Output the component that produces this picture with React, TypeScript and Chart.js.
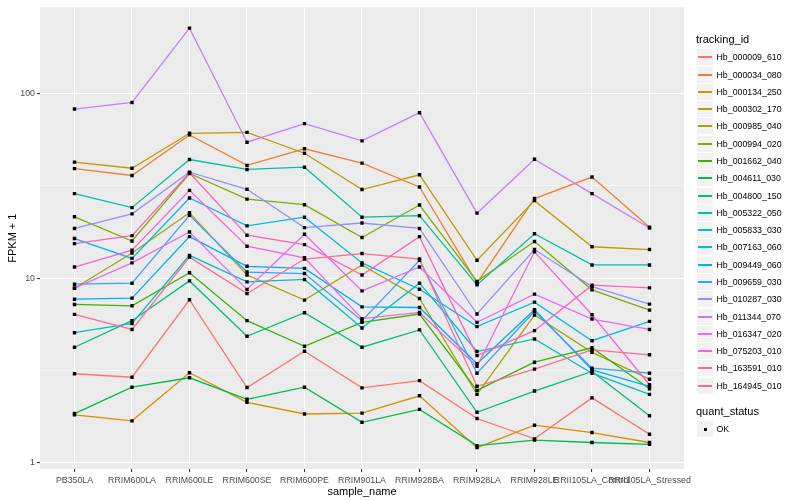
import React, { useEffect, useRef } from 'react';
import { Chart, registerables } from 'chart.js';

Chart.register(...registerables);

const FONT = '"Liberation Sans", Arial, Helvetica, sans-serif';

const categories = [
  'PB350LA', 'RRIM600LA', 'RRIM600LE', 'RRIM600SE', 'RRIM600PE', 'RRIM901LA',
  'RRIM928BA', 'RRIM928LA', 'RRIM928LE', 'RRII105LA_Control', 'RRII105LA_Stressed',
];

const trackingIds = [
  'Hb_000009_610', 'Hb_000034_080', 'Hb_000134_250', 'Hb_000302_170', 'Hb_000985_040',
  'Hb_000994_020', 'Hb_001662_040', 'Hb_004611_030', 'Hb_004800_150', 'Hb_005322_050',
  'Hb_005833_030', 'Hb_007163_060', 'Hb_009449_060', 'Hb_009659_030', 'Hb_010287_030',
  'Hb_011344_070', 'Hb_016347_020', 'Hb_075203_010', 'Hb_163591_010', 'Hb_164945_010',
];

// FPKM + 1 per sample, in the order of `categories`
const hb_000009_610 = [3.04, 2.91, 7.64, 2.56, 4.02, 2.55, 2.79, 1.74, 1.35, 2.25, 1.43];
const hb_000034_080 = [39.2, 36.0, 59.7, 40.8, 50.2, 42.0, 31.2, 9.43, 27.0, 35.3, 18.9];
const hb_000134_250 = [1.82, 1.69, 3.08, 2.13, 1.84, 1.86, 2.31, 1.21, 1.60, 1.46, 1.29];
const hb_000302_170 = [42.5, 39.4, 60.9, 61.6, 47.5, 30.2, 36.3, 12.5, 26.3, 14.8, 14.3];
const hb_000985_040 = [8.83, 13.7, 22.6, 10.4, 7.61, 11.8, 7.77, 2.35, 6.32, 3.97, 2.84];
const hb_000994_020 = [21.5, 15.9, 36.9, 26.8, 25.0, 16.6, 24.9, 9.61, 15.8, 8.65, 6.72];
const hb_001662_040 = [7.21, 7.09, 10.7, 5.89, 4.28, 5.77, 6.40, 2.47, 3.51, 4.20, 2.52];
const hb_004611_030 = [1.85, 2.57, 2.89, 2.21, 2.57, 1.66, 1.95, 1.24, 1.33, 1.29, 1.26];
const hb_004800_150 = [4.23, 5.89, 9.67, 4.85, 6.50, 4.23, 5.25, 1.88, 2.45, 3.13, 1.80];
const hb_005322_050 = [28.7, 24.1, 43.9, 38.8, 39.9, 21.4, 21.8, 9.20, 17.4, 11.8, 11.8];
const hb_005833_030 = [5.07, 5.69, 13.3, 9.55, 9.85, 5.38, 9.40, 4.01, 4.69, 3.06, 2.35];
const hb_007163_060 = [16.4, 12.8, 27.2, 19.2, 21.4, 12.1, 8.72, 5.47, 7.42, 4.59, 5.84];
const hb_009449_060 = [7.70, 7.80, 16.8, 11.6, 11.3, 7.00, 6.94, 3.44, 6.75, 3.19, 2.60];
const hb_009659_030 = [9.28, 9.40, 21.9, 10.8, 10.6, 5.89, 12.5, 3.06, 6.62, 3.26, 3.06];
const hb_010287_030 = [18.6, 22.3, 37.5, 30.3, 18.8, 19.9, 18.6, 6.40, 14.3, 9.01, 7.24];
const hb_011344_070 = [82.4, 89.4, 226, 54.5, 68.7, 55.4, 78.7, 22.5, 44.1, 28.7, 18.7];
const hb_016347_020 = [8.83, 12.1, 17.8, 8.70, 17.3, 8.54, 11.5, 5.77, 8.20, 6.01, 5.28];
const hb_075203_010 = [11.5, 14.2, 29.9, 14.9, 12.9, 6.04, 6.53, 3.33, 13.9, 6.34, 2.65];
const hb_163591_010 = [15.4, 17.0, 37.2, 17.1, 15.2, 10.4, 16.8, 3.81, 5.20, 9.17, 8.87];
const hb_164945_010 = [6.37, 5.28, 13.0, 8.26, 12.7, 13.6, 12.7, 2.60, 3.22, 4.09, 3.85];

const seriesValues = [
  hb_000009_610, hb_000034_080, hb_000134_250, hb_000302_170, hb_000985_040,
  hb_000994_020, hb_001662_040, hb_004611_030, hb_004800_150, hb_005322_050,
  hb_005833_030, hb_007163_060, hb_009449_060, hb_009659_030, hb_010287_030,
  hb_011344_070, hb_016347_020, hb_075203_010, hb_163591_010, hb_164945_010,
];

const seriesColors = [
  '#F8766D', '#EA8331', '#D89000', '#C09B00', '#A3A500',
  '#7CAE00', '#39B600', '#00BB4E', '#00BF7D', '#00C1A3',
  '#00BFC4', '#00BAE0', '#00B0F6', '#35A2FF', '#9590FF',
  '#C77CFF', '#E76BF3', '#FA62DB', '#FF62BC', '#FF6C91',
];

const yTickValues = [1, 10, 100];
const yMinorValues = [3.1623, 31.623];
const statusLabels = ['OK'];

const panelBackground = {
  id: 'panelBackground',
  beforeDraw(chart: any) {
    const { ctx, chartArea: a } = chart;
    ctx.save();
    ctx.fillStyle = '#FFFFFF';
    ctx.fillRect(0, 0, chart.width, chart.height);
    ctx.fillStyle = '#EBEBEB';
    ctx.fillRect(a.left, a.top, a.right - a.left, a.bottom - a.top);
    ctx.restore();
  },
};

export default function App() {
  const canvasRef = useRef<HTMLCanvasElement | null>(null);

  useEffect(() => {
    if (!canvasRef.current) return;
    const lineSets = seriesValues.map((vals, i) => ({
      type: 'line' as const,
      label: trackingIds[i],
      data: vals.map((v, j) => ({ x: j, y: v })),
      borderColor: seriesColors[i],
      backgroundColor: seriesColors[i],
      borderWidth: 1.3,
      pointRadius: 0,
      tension: 0,
      fill: false,
      order: 100 - i,
    }));
    const pointSet = {
      type: 'line' as const,
      label: statusLabels[0],
      data: seriesValues.flatMap((vals) => vals.map((v, j) => ({ x: j, y: v }))),
      showLine: false,
      pointStyle: 'rect',
      pointRadius: 2.4,
      pointBackgroundColor: '#000000',
      pointBorderWidth: 0,
      borderColor: '#000000',
      order: 0,
    };

    const chart = new Chart(canvasRef.current, {
      type: 'line',
      data: { datasets: [...lineSets, pointSet] as any },
      options: {
        responsive: false,
        maintainAspectRatio: false,
        animation: false,
        layout: { padding: { left: 0, right: 116, top: 5, bottom: 0 } },
        plugins: { legend: { display: false }, tooltip: { enabled: false } },
        scales: {
          x: {
            type: 'linear',
            min: -0.6,
            max: 10.6,
            afterBuildTicks: (s: any) => {
              s.ticks = categories.map((_, i) => ({ value: i }));
            },
            afterFit: (s: any) => {
              s.height = 31;
            },
            ticks: {
              autoSkip: false,
              maxRotation: 0,
              minRotation: 0,
              padding: 3,
              color: '#4D4D4D',
              font: { family: FONT, size: 8.8 },
              callback: (v: any) => categories[v as number] ?? '',
            },
            grid: {
              color: '#FFFFFF',
              lineWidth: 1.07,
              tickLength: 3,
              tickColor: '#333333',
              tickWidth: 1.07,
            },
            border: { display: false },
            title: {
              display: true,
              text: 'sample_name',
              color: '#000000',
              font: { family: FONT, size: 11 },
              padding: { top: 0, bottom: 1.5 },
            },
          },
          y: {
            type: 'logarithmic',
            min: 0.927,
            max: 293,
            afterBuildTicks: (s: any) => {
              s.ticks = [...yTickValues, ...yMinorValues]
                .sort((a, b) => a - b)
                .map((v) => ({ value: v }));
            },
            afterFit: (s: any) => {
              s.width = 40;
            },
            ticks: {
              autoSkip: false,
              padding: 2,
              color: '#4D4D4D',
              font: { family: FONT, size: 8.8 },
              callback: (v: any) => (yTickValues.includes(v) ? String(v) : ''),
            },
            grid: {
              color: '#FFFFFF',
              lineWidth: (c: any) => (yTickValues.includes(c.tick?.value) ? 1.07 : 0.53),
              tickLength: 3,
              tickColor: (c: any) =>
                yTickValues.includes(c.tick?.value) ? '#333333' : 'rgba(0,0,0,0)',
              tickWidth: 1.07,
            },
            border: { display: false },
            title: {
              display: true,
              text: 'FPKM + 1',
              color: '#000000',
              font: { family: FONT, size: 11 },
              padding: { top: 6, bottom: 0 },
            },
          },
        },
      } as any,
      plugins: [panelBackground],
    });
    return () => chart.destroy();
  }, []);

  const keyStep = 17.28;
  const firstKey = 57.3;
  const statusTitleY = 412;
  const statusKeyY = 429;

  return (
    <div
      style={{
        position: 'fixed',
        left: 0,
        top: 0,
        width: 800,
        height: 500,
        background: '#FFFFFF',
        fontFamily: FONT,
        color: '#000000',
      }}
    >
      <canvas ref={canvasRef} width={800} height={500} style={{ width: 800, height: 500, display: 'block' }} />
      <div style={{ position: 'absolute', left: 696, top: 40 - 6.6, fontSize: 11, lineHeight: '13.2px', whiteSpace: 'nowrap' }}>
        tracking_id
      </div>
      {trackingIds.map((id, i) => {
        const cy = Math.round(firstKey + i * keyStep);
        return (
          <React.Fragment key={id}>
            <div
              style={{
                position: 'absolute',
                left: 697,
                top: cy - 8,
                width: 16,
                height: 16,
                background: '#F2F2F2',
              }}
            >
              <div
                style={{
                  position: 'absolute',
                  left: 1,
                  width: 14,
                  top: 7,
                  height: 1.6,
                  background: seriesColors[i],
                }}
              />
            </div>
            <div
              style={{
                position: 'absolute',
                left: 716.5,
                top: cy - 5.3,
                fontSize: 8.8,
                lineHeight: '10.6px',
                whiteSpace: 'nowrap',
              }}
            >
              {id}
            </div>
          </React.Fragment>
        );
      })}
      <div style={{ position: 'absolute', left: 696, top: statusTitleY - 6.6, fontSize: 11, lineHeight: '13.2px', whiteSpace: 'nowrap' }}>
        quant_status
      </div>
      {statusLabels.map((lab, i) => {
        const cy = Math.round(statusKeyY + i * keyStep);
        return (
          <React.Fragment key={lab}>
            <div
              style={{
                position: 'absolute',
                left: 697,
                top: cy - 8,
                width: 16,
                height: 16,
                background: '#F2F2F2',
              }}
            >
              <div
                style={{
                  position: 'absolute',
                  left: 6.5,
                  top: 6.5,
                  width: 3,
                  height: 3,
                  background: '#000000',
                }}
              />
            </div>
            <div
              style={{
                position: 'absolute',
                left: 716.5,
                top: cy - 5.3,
                fontSize: 8.8,
                lineHeight: '10.6px',
                whiteSpace: 'nowrap',
              }}
            >
              {lab}
            </div>
          </React.Fragment>
        );
      })}
    </div>
  );
}
